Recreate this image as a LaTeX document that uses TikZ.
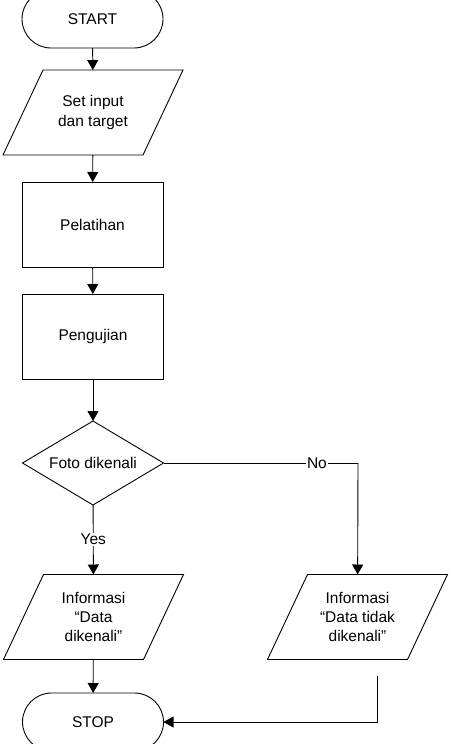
\documentclass[tikz,border=0pt]{standalone}
\usepackage{fontspec}
\setmainfont{Liberation Sans}
\usetikzlibrary{shapes.geometric,shapes.misc,arrows.meta}
\begin{document}
\begin{tikzpicture}[x=1pt,y=-1pt,
  every node/.style={font=\fontsize{15.5}{19.3}\selectfont, align=center},
  base/.style={draw, line width=0.9pt, inner sep=0pt, outer sep=0pt},
  term/.style={base, rounded rectangle, minimum width=141pt, minimum height=58pt},
  proc/.style={base, rectangle, minimum width=141pt, minimum height=85pt},
  io/.style={rectangle, inner sep=0pt, outer sep=0pt, minimum width=140pt, minimum height=85pt},
  iobox/.style={line width=0.9pt, line join=miter},
  decision/.style={base, diamond, shape aspect=1.67, minimum width=141pt, minimum height=84pt},
  lbl/.style={fill=white, inner sep=1pt},
  conn/.style={line width=0.9pt, -{Triangle[width=11pt,length=10pt]}},
  plain/.style={line width=0.9pt}]
\clip (0,0) rectangle (452,744);
\useasboundingbox (0,0) rectangle (452,744);
\node[term] (start) at (92.5,19) {START};
\node[io] (input) at (93,112.5) {Set input\\dan target};
\node[proc] (latih) at (92.5,224.5) {Pelatihan};
\node[proc] (uji) at (93,336.5) {Pengujian};
\node[decision] (foto) at (93,463) {Foto dikenali};
\node[io] (info1) at (93.5,617) {Informasi\\``Data\\dikenali''};
\node[io] (info2) at (357.5,617) {Informasi\\``Data tidak\\dikenali''};
\node[term] (stop) at (93,722) {STOP};
\foreach \n in {input,info1,info2}{
  \draw[iobox] ([xshift=-20pt]\n.south west) -- ([xshift=20pt]\n.north west)
     -- ([xshift=20pt]\n.north east) -- ([xshift=-20pt]\n.south east) -- cycle;
}
\coordinate (corner) at (358,463);
\coordinate (ret) at (377,676);
\coordinate (retc) at (377,722);
\draw[conn] (start) -- (input);
\draw[conn] (input) -- (latih);
\draw[conn] (latih) -- (uji);
\draw[conn] (uji) -- (foto);
\draw[conn] (foto) -- node[lbl, pos=0.5] (yes) {Yes} (info1);
\draw[plain] (foto.east) -- node[lbl, pos=0.789] (no) {No} (corner);
\draw[conn] (corner) -- (info2);
\draw[conn] (info1) -- (stop);
\draw[conn] (ret) -- (retc) -- (stop.east);
\end{tikzpicture}
\end{document}
